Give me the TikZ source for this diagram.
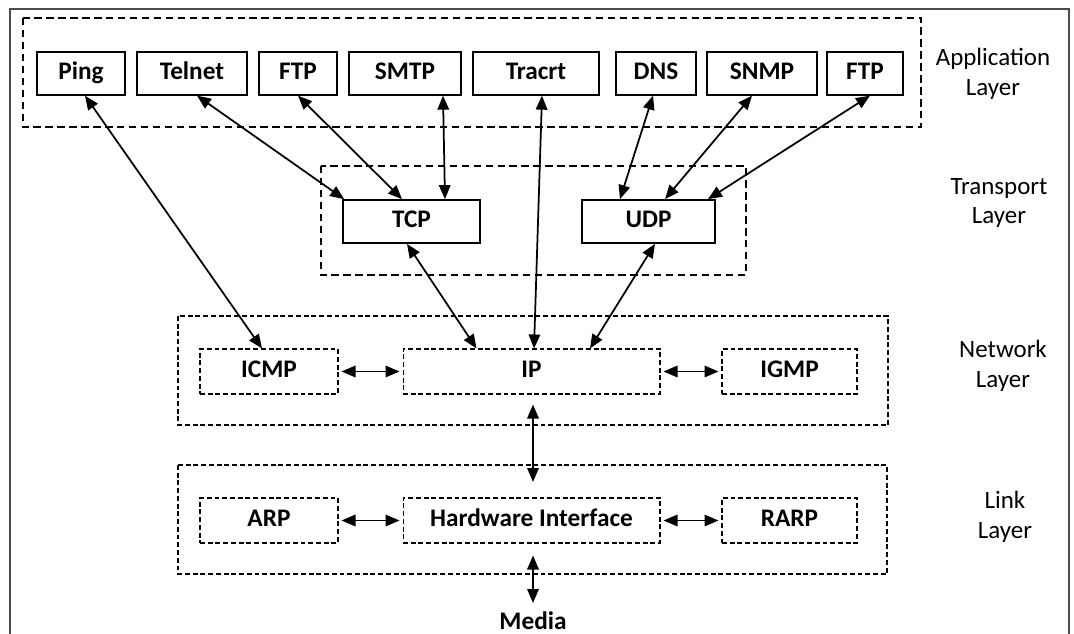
\documentclass[tikz,border=0pt]{standalone}
\usepackage{fontspec}
\setmainfont{Carlito}
\usetikzlibrary{arrows.meta}

\begin{document}
\begin{tikzpicture}[x=0.02cm,y=-0.02cm,
	font=\fontsize{14.2}{16.8}\selectfont,
	appbox/.style={draw,line width=0.75pt,inner sep=0pt,minimum height=0.86cm,text height=0.75em,text depth=0.11em,font=\fontsize{14.4}{16.8}\selectfont\bfseries},
	tpbox/.style={appbox,line width=1pt},
	netbox/.style={draw,dash pattern=on 2.8pt off 1.6pt,line width=0.6pt,inner sep=0pt,minimum height=0.9cm,text height=0.75em,text depth=0.11em,font=\fontsize{14.4}{16.8}\selectfont\bfseries},
	layerbox/.style={dash pattern=on 4.2pt off 2.6pt,line width=0.8pt},
	layertext/.style={align=center},
	conn/.style={{Triangle[length=0.28cm,width=0.23cm]}-{Triangle[length=0.28cm,width=0.23cm]},line width=1pt}]

	\useasboundingbox (0,0) rectangle (1074,634);

	% outer frame
	\draw[black!70,line width=0.6pt] (10,634) -- (10,9) -- (1069,9) -- (1069,634);

	% layer boxes
	\draw[layerbox] (23,18) rectangle (921,127);
	\draw[layerbox] (321,166) rectangle (746,275);
	\draw[netbox] (178,316) rectangle (888,425);
	\draw[netbox] (178,465) rectangle (887,574);

	% application layer
	\node[appbox,minimum width=1.76cm] (ping) at (81,73.5) {Ping};
	\node[appbox,minimum width=2.2cm] (telnet) at (192,73.5) {Telnet};
	\node[appbox,minimum width=1.56cm] (ftpA) at (298,73.5) {FTP};
	\node[appbox,minimum width=2.24cm] (smtp) at (405,73.5) {SMTP};
	\node[appbox,minimum width=2.52cm] (tracrt) at (536,73.5) {Tracrt};
	\node[appbox,minimum width=1.6cm] (dns) at (656,73.5) {DNS};
	\node[appbox,minimum width=2.2cm] (snmp) at (762,73.5) {SNMP};
	\node[appbox,minimum width=1.52cm] (ftpB) at (865,73.5) {FTP};

	% transport layer
	\node[tpbox,minimum width=2.74cm] (tcp) at (411.5,221.5) {TCP};
	\node[tpbox,minimum width=2.66cm] (udp) at (648.5,221.5) {UDP};

	% network layer
	\node[netbox,minimum width=2.76cm] (icmp) at (269,371.5) {ICMP};
	\node[netbox,minimum width=5.14cm] (ip) at (531.5,371.5) {IP};
	\node[netbox,minimum width=2.7cm] (igmp) at (789.5,371.5) {IGMP};

	% link layer
	\node[netbox,minimum width=2.76cm] (arp) at (269,520.5) {ARP};
	\node[netbox,minimum width=5.14cm] (hw) at (531.5,520.5) {Hardware Interface};
	\node[netbox,minimum width=2.7cm] (rarp) at (789.5,520.5) {RARP};

	\node[font=\fontsize{14.4}{16.8}\selectfont\bfseries] (media) at (533,621) {Media};
	\coordinate (linktop) at (533,482);
	\coordinate (mediatop) at (533,603);

	% layer labels
	\node[layertext] (applabel) at (993,74) {Application\\Layer};
	\node[layertext] (tplabel) at (999,203) {Transport\\Layer};
	\node[layertext] (netlabel) at (1003,366) {Network\\Layer};
	\node[layertext] (linklabel) at (1005,517) {Link\\Layer};

	% connectors
	\draw[conn] ([xshift=0.08cm]ping.south) -- ([xshift=-0.14cm]icmp.north);
	\draw[conn] ([xshift=0.1cm]telnet.south) -- ([xshift=0.04cm]tcp.north west);
	\draw[conn] (ftpA.south) -- ([xshift=-0.19cm]tcp.north);
	\draw[conn] ([xshift=0.76cm]smtp.south) -- ([xshift=0.67cm]tcp.north);
	\draw[conn] ([xshift=0.12cm]tracrt.south) -- ([xshift=0.05cm]ip.north);
	\draw[conn] ([xshift=-0.06cm]dns.south) -- ([xshift=-0.57cm]udp.north);
	\draw[conn] ([xshift=-0.2cm]snmp.south) -- ([xshift=0.33cm]udp.north);
	\draw[conn] ([xshift=0.1cm]ftpB.south) -- ([xshift=1.19cm]udp.north);
	\draw[conn] ([xshift=-0.09cm]tcp.south) -- ([xshift=-1.1cm]ip.north);
	\draw[conn] ([xshift=0.13cm]udp.south) -- ([xshift=1.17cm]ip.north);

	\draw[conn] ([xshift=0.06cm]icmp.east) -- ([xshift=-0.06cm]ip.west);
	\draw[conn] ([xshift=0.06cm]ip.east) -- ([xshift=-0.06cm]igmp.west);
	\draw[conn] ([xshift=0.06cm]arp.east) -- ([xshift=-0.06cm]hw.west);
	\draw[conn] ([xshift=0.06cm]hw.east) -- ([xshift=-0.06cm]rarp.west);

	\draw[conn] ([xshift=0.03cm,yshift=-0.2cm]ip.south) -- (linktop);
	\draw[conn] ([xshift=0.03cm,yshift=-0.24cm]hw.south) -- (mediatop);

\end{tikzpicture}
\end{document}
